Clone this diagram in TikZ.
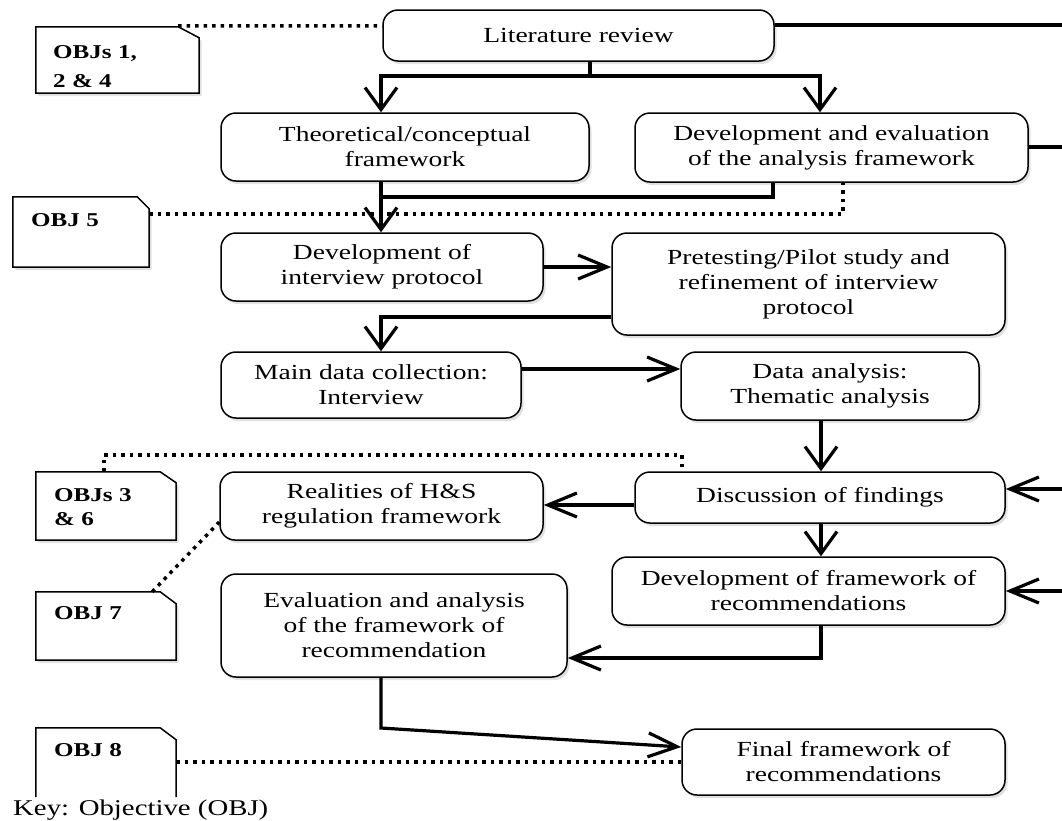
\documentclass[tikz,border=0pt]{standalone}
\usepackage{fontspec}
\setmainfont{Liberation Serif}[FakeStretch=1.28]
\usetikzlibrary{arrows.meta,shadows,calc}

\tikzset{
  softshadow/.style={drop shadow={shadow xshift=2.5pt, shadow yshift=-3pt, fill=black, opacity=0.12}},
  stage/.style={draw, line width=1.5pt, rounded corners=15pt, fill=white, align=center,
    inner sep=0pt, font=\fontsize{21.5}{25}\selectfont, softshadow},
  tag/.style={inner sep=0pt},
  tagline/.style={draw, line width=1.5pt, fill=white, softshadow},
  tagtext/.style={font=\bfseries\fontsize{19.6}{23.5}\selectfont, align=left, inner sep=0pt, anchor=base west},
  flow/.style={line width=3.2pt},
  down/.style={flow, -{Straight Barb[length=22pt,width=32pt]}},
  across/.style={flow, -{Straight Barb[length=29pt,width=24pt]}},
  objlink/.style={line width=3.5pt, dash pattern=on 3.5pt off 5pt},
}

% notched objective label outline: node name, notch width, notch depth
\newcommand\tagoutline[3]{%
  \path[tagline] (#1.south west) -- (#1.north west) -- ([xshift=-#2pt]#1.north east)
    -- ([yshift=-#3pt]#1.north east) -- (#1.south east) -- cycle;}

\begin{document}
\begin{tikzpicture}[x=1pt,y=-1pt]
\useasboundingbox (0,0) rectangle (1062,820);

% ---- process stages ----
\node[stage, minimum width=391pt, minimum height=51pt] (lit) at (578.5,35.5) {Literature review};
\node[stage, minimum width=368pt, minimum height=68pt] (theo) at (405,147) {Theoretical/conceptual\\framework};
\node[stage, minimum width=393pt, minimum height=69pt] (deval) at (831.5,147.5) {Development and evaluation\\of the analysis framework};
\node[stage, minimum width=322pt, minimum height=68pt] (dip) at (382,267) {Development of\\interview protocol};
\node[stage, minimum width=393pt, minimum height=102pt] (pilot) at (808.5,284) {Pretesting/Pilot study and\\refinement of interview\\protocol};
\node[stage, minimum width=300pt, minimum height=66pt] (main) at (371,385) {Main data collection:\\Interview};
\node[stage, minimum width=298pt, minimum height=68pt] (dana) at (830,386) {Data analysis:\\Thematic analysis};
\node[stage, minimum width=370pt, minimum height=51pt] (disc) at (820,497.5) {Discussion of findings};
\node[stage, minimum width=323pt, minimum height=68pt] (real) at (381.5,506) {Realities of H\&S\\regulation framework};
\node[stage, minimum width=393pt, minimum height=68pt] (dfr) at (808.5,591) {Development of framework of\\recommendations};
\node[stage, minimum width=346pt, minimum height=103pt] (eval) at (394,625.5) {Evaluation and analysis\\of the framework of\\recommendation};
\node[stage, minimum width=323pt, minimum height=66pt] (final) at (843.5,762) {Final framework of\\recommendations};

% ---- objective labels ----
\node[tag, minimum width=163pt, minimum height=66pt] (o124) at (117.5,60) {};
\tagoutline{o124}{21}{11}
\node[tagtext] (o124t) at (53,87) {OBJs 1,\\[5pt]2 \& 4};

\node[tag, minimum width=136pt, minimum height=70pt] (o5) at (81,232) {};
\tagoutline{o5}{12}{12}
\node[tagtext] (o5t) at (31,226) {OBJ 5};

\node[tag, minimum width=140pt, minimum height=68pt] (o36) at (106,506) {};
\tagoutline{o36}{16}{11}
\node[tagtext] (o36t) at (54,525) {OBJs 3\\\& 6};

\node[tag, minimum width=140pt, minimum height=68pt] (o7) at (106,626) {};
\tagoutline{o7}{16}{12}
\node[tagtext] (o7t) at (54,619) {OBJ 7};

\node[tag, minimum width=140pt, minimum height=69pt] (o8) at (106,762.5) {};
\path[draw, line width=1.5pt] (o8.south west) -- (o8.north west) -- ([xshift=-16pt]o8.north east)
  -- ([yshift=-12pt]o8.north east) -- (o8.south east);
\node[tagtext] (o8t) at (54,756) {OBJ 8};

\node[anchor=base west, inner sep=0pt, font=\fontsize{22.5}{26}\selectfont] (key) at (13,815) {Key: Objective (OBJ)};

% ---- reference coordinates ----
\coordinate (xL) at (381,0);
\coordinate (xR) at (820,0);
\coordinate (xM) at (821,0);
\coordinate (split) at (590,76);
\coordinate (r1) at (1062,25);
\coordinate (r2) at (1062,147);
\coordinate (r3) at (1062,489);
\coordinate (r4) at (1062,591);
\coordinate (j1) at (773,197);
\coordinate (d5) at (843,214);
\coordinate (y317) at (0,317);
\coordinate (y369) at (0,369);
\coordinate (d36a) at (104,455);
\coordinate (d36b) at (682,455);
\coordinate (y505) at (0,505);
\coordinate (y522) at (0,522);
\coordinate (j3) at (821,658);
\coordinate (j4) at (381,728);
\coordinate (y747) at (0,747);
\coordinate (y762) at (0,762);
\coordinate (y26) at (0,26);

% ---- flow connectors ----
\draw[flow] (lit.south -| split) -- (split);
\draw[down] (split) -| (theo.north -| xL);
\draw[down] (split) -| (deval.north -| xR);
\draw[flow] (lit.east |- r1) -- (r1);
\draw[flow] (deval.east |- r2) -- (r2);
\draw[down] (theo.south -| xL) -- (dip.north -| xL);
\draw[flow] (deval.south -| j1) -- (j1) -- (j1 -| xL);
\draw[across] (dip.east) -- (pilot.west |- dip.east);
\draw[down] (pilot.west |- y317) -| (main.north -| xL);
\draw[across] (main.east |- y369) -- (dana.west |- y369);
\draw[down] (dana.south -| xM) -- (disc.north -| xM);
\draw[across] (disc.west |- y505) -- (real.east |- y505);
\draw[down] (disc.south -| xM) -- (dfr.north -| xM);
\draw[across] (dfr.south -| j3) |- (eval.east |- j3);
\draw[across] (eval.south -| j4) -- (j4) -- (final.west |- y747);
\draw[across] (r3) -- (disc.east |- r3);
\draw[across] (r4) -- (dfr.east |- r4);

% ---- objective links ----
\draw[objlink] ([xshift=-21pt,yshift=1pt]o124.north east) -- (lit.west |- y26);
\draw[objlink] (o5.north east |- d5) -- (d5) -- (deval.south -| d5);
\draw[objlink] (o36.north -| d36a) -- (d36a) -- (d36b) -- (disc.north -| d36b);
\draw[objlink] ([xshift=-24pt]o7.north east) -- (real.west |- y522);
\draw[objlink] (o8.east |- y762) -- (final.west |- y762);
\end{tikzpicture}
\end{document}
